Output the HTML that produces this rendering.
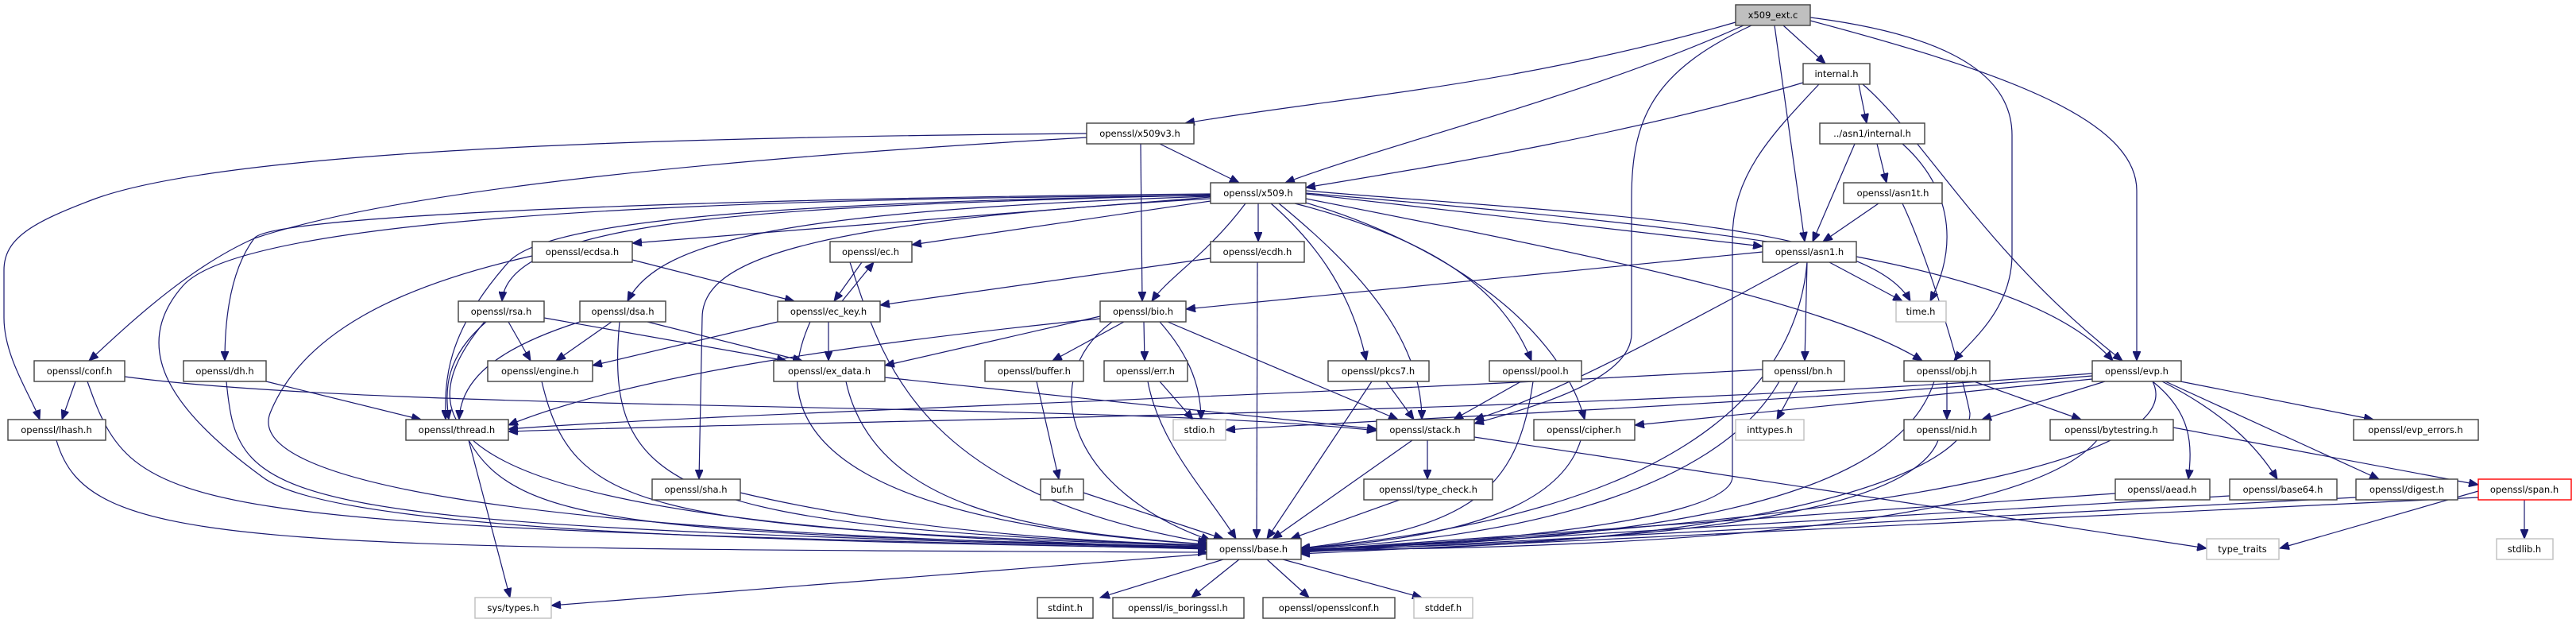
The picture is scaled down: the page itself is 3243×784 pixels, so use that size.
<!DOCTYPE html>
<html><head><meta charset="utf-8"><style>
html,body{margin:0;padding:0;background:#fff;width:3243px;height:784px;overflow:hidden}
svg{display:block}
text{font-family:"DejaVu Sans","Liberation Sans",sans-serif;font-size:11.5px;fill:#000;text-anchor:middle}
.n rect{fill:#fff;stroke:#404040;stroke-width:1.4}
.g rect{fill:#fff;stroke:#bfbfbf;stroke-width:1.4}
.e path{fill:none;stroke:#191970;stroke-width:1.2;marker-end:url(#a)}
</style></head><body>
<svg width="3243" height="784" viewBox="0 0 3243 784" xmlns="http://www.w3.org/2000/svg">
<defs><marker id="a" markerUnits="userSpaceOnUse" markerWidth="14" markerHeight="10" refX="12" refY="5" orient="auto"><path d="M0,0 L12,5 L0,10 z" fill="#191970" stroke="#191970"/></marker></defs>
<g class="e">
<!-- ext -->
<path d="M2185,28 C1900,110 1700,120 1492,155"/>
<path d="M2195,32 C2000,120 1750,180 1618,230"/>
<path d="M2245,32 L2298,80"/>
<path d="M2234,32 L2272,304"/>
<path d="M2205,32 C2080,90 2054,150 2054,250 L2054,420 C2054,480 1920,515 1856,533"/>
<path d="M2279,22 C2420,40 2533,80 2533,170 L2533,320 C2533,390 2480,430 2460,454"/>
<path d="M2279,26 C2520,90 2690,150 2690,240 L2690,454"/>
<!-- internal -->
<path d="M2270,104 C2050,170 1800,210 1644,236"/>
<path d="M2290,106 C2230,170 2181,220 2181,300 L2181,600 C2181,660 1800,688 1637,692"/>
<path d="M2340,106 L2350,155"/>
<path d="M2345,106 C2420,170 2500,320 2672,454"/>
<!-- x509v3 -->
<path d="M1460,181 L1560,230"/>
<path d="M1436,181 L1438,379"/>
<path d="M1368,168 C900,172 300,185 120,250 C40,280 5,300 5,340 L5,400 C5,450 40,500 50,528"/>
<path d="M1368,173 C900,200 500,240 320,300 C230,340 150,420 112,454"/>
<!-- asn1 internal / asn1t -->
<path d="M2335,181 L2282,304"/>
<path d="M2363,181 L2375,230"/>
<path d="M2395,181 C2450,230 2470,300 2430,379"/>
<path d="M2365,256 L2295,304"/>
<path d="M2395,256 C2430,330 2470,470 2480,520 C2480,600 2200,690 1637,693"/>
<!-- x509 -->
<path d="M1524,248 L796,306"/>
<path d="M1524,253 L1148,308"/>
<path d="M1584,256 L1584,304"/>
<path d="M1568,256 C1520,320 1470,350 1450,379"/>
<path d="M1644,244 L2219,310"/>
<path d="M1644,240 C2000,270 2350,280 2405,379"/>
<path d="M1644,243 C2200,290 2550,330 2660,454"/>
<path d="M1644,250 C2000,320 2300,380 2420,454"/>
<path d="M1600,256 C1650,300 1700,360 1720,454"/>
<path d="M1610,256 C1700,330 1790,420 1790,528"/>
<path d="M1630,256 C1800,300 1890,360 1928,454"/>
<path d="M1640,254 C1800,300 1960,400 1995,528"/>
<path d="M1524,245 C1000,260 640,270 632,379"/>
<path d="M1524,247 C1000,265 830,300 790,379"/>
<path d="M1524,250 C1000,280 884,330 884,400 L880,603"/>
<path d="M1524,244 C900,250 340,270 320,300 C290,340 283,400 283,454"/>
<path d="M1524,246 C900,255 680,285 640,330 C560,420 560,480 561,528"/>
<path d="M1524,246 C800,250 300,280 230,360 C160,440 220,520 330,600 C420,670 1000,682 1520,690"/>
<!-- mid layer -->
<path d="M796,327 L1000,379"/>
<path d="M1085,330 L1050,379"/>
<path d="M1060,379 L1100,330"/>
<path d="M1524,325 L1108,384"/>
<path d="M1415,405 L1325,454"/>
<path d="M1440,405 L1441,454"/>
<path d="M1460,405 C1500,450 1512,490 1512,528"/>
<path d="M1470,405 L1760,528"/>
<path d="M1385,398 L1114,460"/>
<path d="M1385,401 C1100,430 800,470 640,535"/>
<path d="M2219,317 L1493,389"/>
<path d="M2275,330 L2272,454"/>
<path d="M2265,330 C2100,420 1950,500 1856,528"/>
<path d="M2303,330 L2395,379"/>
<path d="M640,405 L668,454"/>
<path d="M685,400 L990,454"/>
<path d="M612,405 C560,450 560,490 565,528"/>
<path d="M770,405 L700,454"/>
<path d="M815,405 L1010,454"/>
<path d="M730,405 C620,440 580,480 578,528"/>
<path d="M979,405 L746,460"/>
<path d="M1043,405 L1043,454"/>
<path d="M1114,475 L1733,540"/>
<path d="M335,480 L530,528"/>
<path d="M95,480 L78,528"/>
<path d="M157,474 C500,520 1400,505 1733,542"/>
<path d="M590,554 L642,752"/>
<path d="M1305,480 L1333,603"/>
<path d="M1460,480 L1502,528"/>
<path d="M1745,480 L1780,528"/>
<path d="M1915,480 L1830,528"/>
<path d="M1797,554 L1797,603"/>
<path d="M1856,550 L2778,690"/>
<path d="M2263,480 L2237,528"/>
<path d="M2219,465 C1600,500 900,520 640,540"/>
<path d="M2451,480 L2451,528"/>
<path d="M2485,480 L2620,528"/>
<path d="M2634,470 C2000,520 1000,530 640,543"/>
<path d="M2634,473 C2200,510 1700,530 1543,541"/>
<path d="M2634,477 L2058,535"/>
<path d="M2650,480 L2495,528"/>
<path d="M2745,480 L2988,528"/>
<path d="M2710,480 C2760,520 2760,560 2755,603"/>
<path d="M2722,480 C2800,520 2840,560 2867,603"/>
<path d="M2726,480 L2995,603"/>
<path d="M2736,538 L3120,610"/>
<path d="M3120,618 L2870,690"/>
<path d="M3178,629 L3178,678"/>
<!-- into base left -->
<path d="M71,554 C110,690 300,690 1520,695"/>
<path d="M110,480 C170,650 200,660 1520,691"/>
<path d="M285,480 C300,640 330,660 1520,690"/>
<path d="M610,405 C480,560 600,665 1520,689"/>
<path d="M590,554 C650,660 800,672 1520,688"/>
<path d="M682,480 C720,640 800,665 1520,687"/>
<path d="M780,405 C760,620 850,662 1520,687"/>
<path d="M932,620 C1100,660 1300,680 1520,686"/>
<path d="M1065,480 C1100,640 1300,670 1520,685"/>
<path d="M1020,405 C950,560 1100,660 1520,685"/>
<path d="M670,322 C500,360 380,420 340,520 C310,600 600,670 1520,689"/>
<path d="M1070,330 C1110,450 1150,620 1520,683"/>
<path d="M1400,405 C1300,480 1350,620 1524,680"/>
<path d="M1364,620 L1540,678"/>
<path d="M1445,480 C1460,560 1520,620 1556,678"/>
<path d="M1583,330 L1582,678"/>
<path d="M1727,480 L1595,678"/>
<path d="M1778,554 L1602,678"/>
<path d="M1762,629 L1625,678"/>
<!-- into base right -->
<path d="M1930,480 C1910,620 1850,665 1637,690"/>
<path d="M1990,554 C1960,650 1800,680 1637,690"/>
<path d="M2275,330 C2260,500 2100,650 1637,690"/>
<path d="M2240,480 C2160,620 1900,680 1637,690"/>
<path d="M2435,480 C2380,650 2000,682 1637,691"/>
<path d="M2440,554 C2400,660 2000,686 1637,691"/>
<path d="M2640,554 C2550,660 2100,690 1637,692"/>
<path d="M2710,480 C2750,560 2500,650 1637,692"/>
<path d="M2663,621 L1637,693"/>
<path d="M2807,624 L1637,694"/>
<path d="M2966,626 L1637,695"/>
<path d="M3120,626 L1637,697"/>
<!-- base out -->
<path d="M1520,697 L694,762"/>
<path d="M1540,704 L1385,752"/>
<path d="M1560,704 L1500,752"/>
<path d="M1595,704 L1648,752"/>
<path d="M1615,704 L1790,752"/>
</g>
<g class="n">
<rect x="2185" y="6" width="94" height="26" style="fill:#bfbfbf"/><text x="2232" y="23">x509_ext.c</text>
<rect x="2270" y="80" width="84" height="26"/><text x="2312" y="97">internal.h</text>
<rect x="1368" y="155" width="135" height="26"/><text x="1435" y="172">openssl/x509v3.h</text>
<rect x="2291" y="155" width="132" height="26"/><text x="2357" y="172">../asn1/internal.h</text>
<rect x="1524" y="230" width="120" height="26"/><text x="1584" y="247">openssl/x509.h</text>
<rect x="2321" y="230" width="124" height="26"/><text x="2383" y="247">openssl/asn1t.h</text>
<rect x="670" y="304" width="126" height="26"/><text x="733" y="321">openssl/ecdsa.h</text>
<rect x="1045" y="304" width="103" height="26"/><text x="1096" y="321">openssl/ec.h</text>
<rect x="1524" y="304" width="118" height="26"/><text x="1583" y="321">openssl/ecdh.h</text>
<rect x="2219" y="304" width="118" height="26"/><text x="2278" y="321">openssl/asn1.h</text>
<rect x="577" y="379" width="108" height="26"/><text x="631" y="396">openssl/rsa.h</text>
<rect x="730" y="379" width="108" height="26"/><text x="784" y="396">openssl/dsa.h</text>
<rect x="979" y="379" width="129" height="26"/><text x="1043" y="396">openssl/ec_key.h</text>
<rect x="1385" y="379" width="108" height="26"/><text x="1439" y="396">openssl/bio.h</text>
<rect x="43" y="454" width="114" height="26"/><text x="100" y="471">openssl/conf.h</text>
<rect x="231" y="454" width="104" height="26"/><text x="283" y="471">openssl/dh.h</text>
<rect x="614" y="454" width="132" height="26"/><text x="680" y="471">openssl/engine.h</text>
<rect x="974" y="454" width="140" height="26"/><text x="1044" y="471">openssl/ex_data.h</text>
<rect x="1240" y="454" width="124" height="26"/><text x="1302" y="471">openssl/buffer.h</text>
<rect x="1390" y="454" width="105" height="26"/><text x="1442" y="471">openssl/err.h</text>
<rect x="1672" y="454" width="127" height="26"/><text x="1735" y="471">openssl/pkcs7.h</text>
<rect x="1875" y="454" width="116" height="26"/><text x="1933" y="471">openssl/pool.h</text>
<rect x="2219" y="454" width="103" height="26"/><text x="2270" y="471">openssl/bn.h</text>
<rect x="2397" y="454" width="108" height="26"/><text x="2451" y="471">openssl/obj.h</text>
<rect x="2634" y="454" width="112" height="26"/><text x="2690" y="471">openssl/evp.h</text>
<rect x="10" y="528" width="123" height="26"/><text x="71" y="545">openssl/lhash.h</text>
<rect x="511" y="528" width="129" height="26"/><text x="575" y="545">openssl/thread.h</text>
<rect x="1733" y="528" width="123" height="26"/><text x="1794" y="545">openssl/stack.h</text>
<rect x="1931" y="528" width="127" height="26"/><text x="1994" y="545">openssl/cipher.h</text>
<rect x="2397" y="528" width="108" height="26"/><text x="2451" y="545">openssl/nid.h</text>
<rect x="2581" y="528" width="155" height="26"/><text x="2658" y="545">openssl/bytestring.h</text>
<rect x="2963" y="528" width="157" height="26"/><text x="3041" y="545">openssl/evp_errors.h</text>
<rect x="821" y="603" width="111" height="26"/><text x="876" y="620">openssl/sha.h</text>
<rect x="1310" y="603" width="54" height="26"/><text x="1337" y="620">buf.h</text>
<rect x="1717" y="603" width="162" height="26"/><text x="1798" y="620">openssl/type_check.h</text>
<rect x="2663" y="603" width="119" height="26"/><text x="2722" y="620">openssl/aead.h</text>
<rect x="2807" y="603" width="135" height="26"/><text x="2874" y="620">openssl/base64.h</text>
<rect x="2966" y="603" width="128" height="26"/><text x="3030" y="620">openssl/digest.h</text>
<rect x="3120" y="603" width="117" height="26" style="stroke:#ff0000"/><text x="3178" y="620">openssl/span.h</text>
<rect x="1519" y="678" width="119" height="26"/><text x="1578" y="695">openssl/base.h</text>
<rect x="1306" y="752" width="70" height="26"/><text x="1341" y="769">stdint.h</text>
<rect x="1401" y="752" width="165" height="26"/><text x="1483" y="769">openssl/is_boringssl.h</text>
<rect x="1590" y="752" width="166" height="26"/><text x="1673" y="769">openssl/opensslconf.h</text>
</g>
<g class="g">
<rect x="2387" y="379" width="63" height="26"/><text x="2418" y="396">time.h</text>
<rect x="1477" y="528" width="66" height="26"/><text x="1510" y="545">stdio.h</text>
<rect x="2185" y="528" width="86" height="26"/><text x="2228" y="545">inttypes.h</text>
<rect x="2778" y="678" width="91" height="26"/><text x="2823" y="695">type_traits</text>
<rect x="3143" y="678" width="71" height="26"/><text x="3178" y="695">stdlib.h</text>
<rect x="598" y="752" width="96" height="26"/><text x="646" y="769">sys/types.h</text>
<rect x="1780" y="752" width="74" height="26"/><text x="1817" y="769">stddef.h</text>
</g>
</svg>
</body></html>
